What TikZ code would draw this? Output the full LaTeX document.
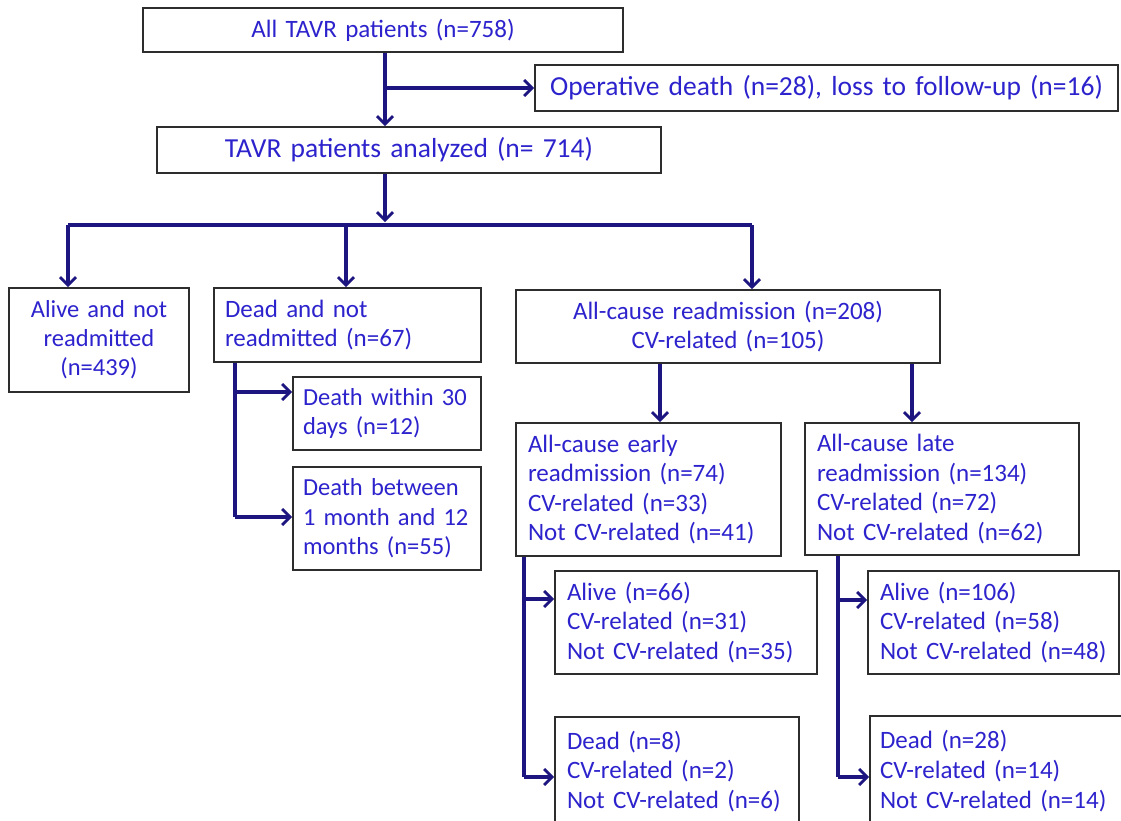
\documentclass[tikz,border=0pt]{standalone}
\usepackage{fontspec}
\setmainfont{Carlito}
\usetikzlibrary{arrows.meta}
\definecolor{txt}{RGB}{45,35,205}
\definecolor{ln}{RGB}{30,22,128}
\definecolor{bd}{RGB}{45,45,45}
\begin{document}
\begin{tikzpicture}[x=1pt,y=-1pt,
  box/.style={draw=bd, line width=1.7pt, fill=white, text=txt, inner xsep=12pt, inner ysep=0pt,
    font=\fontsize{25}{29.6}\selectfont},
  lbox/.style n args={2}{box, minimum width=#1 pt, text width=#1 pt-24pt, minimum height=#2 pt, align=left},
  cbox/.style n args={2}{box, minimum width=#1 pt, text width=#1 pt-24pt, minimum height=#2 pt, align=center},
  conn/.style={draw=ln, line width=3.2pt},
  arr/.style={conn, -{Straight Barb[length=8pt,width=16pt,line width=2.8pt]}}]
\useasboundingbox[fill=white] (0,0) rectangle (1121,820);

% boxes
\node[cbox={480}{44}, font=\fontsize{25}{28}\selectfont] (top) at (383,30) {All TAVR patients (n=758)};
\node[cbox={583}{46}, font=\fontsize{27.5}{30}\selectfont, inner xsep=2pt, text width=579pt] (op) at (826.5,88) {Operative death (n=28), loss to follow-up (n=16)};
\node[cbox={504}{46}, font=\fontsize{27.5}{30}\selectfont] (ana) at (409,150) {TAVR patients analyzed (n= 714)};
\node[cbox={180}{104}, inner xsep=4pt, text width=172pt, font=\fontsize{24.5}{29}\selectfont] (alive) at (99,340) {Alive and not\\readmitted\\(n=439)};
\node[lbox={267}{74}, inner xsep=11pt, text width=245pt] (dead) at (347.5,325) {Dead and not\\readmitted (n=67)};
\node[cbox={424}{73}] (readm) at (728,326.5) {All-cause readmission (n=208)\\CV-related (n=105)};
\node[lbox={188}{73}, inner xsep=10pt, text width=168pt, font=\fontsize{24.5}{29.6}\selectfont] (d30) at (387,413.5) {Death within 30\\days (n=12)};
\node[lbox={188}{103}, inner xsep=10pt, text width=168pt, font=\fontsize{24.5}{29.6}\selectfont] (d12) at (387,518.5) {Death between\\1 month and 12\\months (n=55)};
\node[lbox={265}{133}] (early) at (648.5,489.5) {All-cause early\\readmission (n=74)\\CV-related (n=33)\\Not CV-related (n=41)};
\node[lbox={274}{132}] (late) at (942,489) {All-cause late\\readmission (n=134)\\CV-related (n=72)\\Not CV-related (n=62)};
\node[lbox={262}{103}] (a66) at (686,622.5) {Alive (n=66)\\CV-related (n=31)\\Not CV-related (n=35)};
\node[lbox={244}{109}] (d8) at (677,771.5) {Dead (n=8)\\CV-related (n=2)\\Not CV-related (n=6)};
\node[lbox={251}{103}] (a106) at (993.5,622.5) {Alive (n=106)\\CV-related (n=58)\\Not CV-related (n=48)};
\node[lbox={260}{110}, inner xsep=10pt, text width=240pt] (d28) at (1000,771) {Dead (n=28)\\CV-related (n=14)\\Not CV-related (n=14)};

% junction coordinates
\coordinate (t1) at (385,88);
\coordinate (j) at (385,225);
\coordinate (b1) at (68,225);
\coordinate (b2) at (346,225);
\coordinate (b3) at (752,225);
\coordinate (dv) at (235,392);
\coordinate (dv2) at (235,517);
\coordinate (r1) at (660,0);
\coordinate (r2) at (912,0);
\coordinate (ev) at (524,599);
\coordinate (ev2) at (524,777);
\coordinate (lv) at (838,600);
\coordinate (lv2) at (838,777);

% connectors
\draw[arr] (top.south -| t1) -- (ana.north -| t1);
\draw[arr] (t1) -- (t1 -| op.west);
\draw[arr, shorten >=3pt] (ana.south -| j) -- (j);
\draw[conn] (b1) -- (b3);
\draw[arr] (b1) -- (alive.north -| b1);
\draw[arr] (b2) -- (dead.north -| b2);
\draw[arr] (b3) -- (readm.north -| b3);

\draw[conn] (dead.south -| dv) -- (dv2);
\draw[arr] (dv) -- (dv -| d30.west);
\draw[arr] (dv2) -- (dv2 -| d12.west);

\draw[arr] (readm.south -| r1) -- (early.north -| r1);
\draw[arr] (readm.south -| r2) -- (late.north -| r2);

\draw[conn] (early.south -| ev) -- (ev2);
\draw[arr] (ev) -- (ev -| a66.west);
\draw[arr] (ev2) -- (ev2 -| d8.west);

\draw[conn] (late.south -| lv) -- (lv2);
\draw[arr] (lv) -- (lv -| a106.west);
\draw[arr] (lv2) -- (lv2 -| d28.west);
\end{tikzpicture}
\end{document}
